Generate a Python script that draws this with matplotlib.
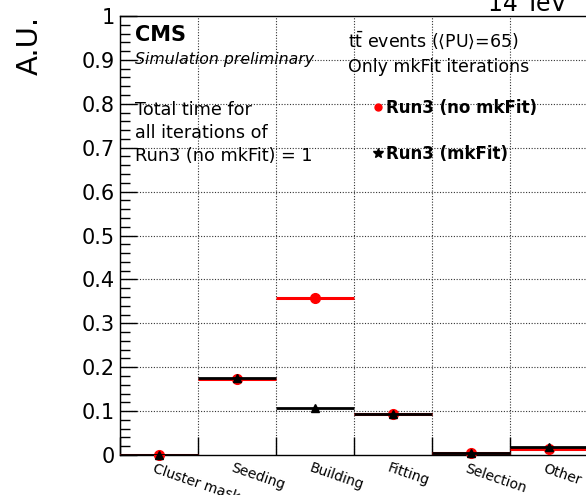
import matplotlib
matplotlib.use("Agg")
import matplotlib.pyplot as plt
import numpy as np
from matplotlib.ticker import MultipleLocator

plt.rcParams['font.family'] = ['DejaVu Sans']
plt.rcParams['mathtext.fontset'] = 'dejavusans'

categories = ["Cluster mask", "Seeding", "Building", "Fitting", "Selection", "Other"]
run3_no_mkfit = [0.001, 0.174, 0.357, 0.093, 0.005, 0.014]
run3_mkfit = [0.001, 0.176, 0.107, 0.094, 0.004, 0.018]
y_ticks = [0, 0.1, 0.2, 0.3, 0.4, 0.5, 0.6, 0.7, 0.8, 0.9, 1]
y_tick_labels = ["0", "0.1", "0.2", "0.3", "0.4", "0.5", "0.6", "0.7", "0.8", "0.9", "1"]

W, H = 586, 495
fig = plt.figure(figsize=(W / 100, H / 100), dpi=100)
ax = fig.add_axes([120 / W, 1 - 455 / H, 468 / W, (455 - 16) / H])

n = len(categories)
edges = np.arange(n + 1)
centers = edges[:-1] + 0.5

ax.set_xlim(0, n)
ax.set_ylim(0, 1)

# grid
for e in edges:
    ax.axvline(e, color="#333333", lw=0.8, ls=(0, (1, 1.5)), zorder=0)
for t in y_ticks[1:-1]:
    ax.axhline(t, color="#333333", lw=0.8, ls=(0, (1, 1.5)), zorder=0)

# per-bin values with horizontal bin-width bars
ax.hlines(run3_no_mkfit, edges[:-1], edges[1:], colors="red", lw=2.2, zorder=3)
ax.plot(centers, run3_no_mkfit, "o", color="red", ms=7, zorder=4, clip_on=False)
ax.hlines(run3_mkfit, edges[:-1], edges[1:], colors="black", lw=2.0, zorder=5)
ax.plot(centers, run3_mkfit, "^", color="black", ms=6, zorder=6, clip_on=False)

# axes styling
ax.set_yticks(y_ticks)
ax.set_yticklabels(y_tick_labels, fontsize=15)
ax.yaxis.set_minor_locator(MultipleLocator(0.02))
ax.tick_params(axis="y", which="major", direction="in", length=12, width=1, pad=4, right=False)
ax.tick_params(axis="y", which="minor", direction="in", length=7, width=1, right=False)
ax.set_xticks(edges)
ax.set_xticklabels([])
ax.tick_params(axis="x", which="major", direction="in", length=13, width=1, top=False)
for c, lab in zip(centers, categories):
    ax.text(c - 0.04, -0.014, lab, rotation=-19, rotation_mode="anchor",
            ha="left", va="top", fontsize=10, transform=ax.transData)
for s in ax.spines.values():
    s.set_linewidth(1.0)

ax.set_ylabel("A.U.", fontsize=21, rotation=90, ha="right", va="bottom")
ax.yaxis.set_label_coords(-0.162, 1.0)

# annotations
ax.text(0.032, 0.957, "CMS", transform=ax.transAxes, fontsize=15, fontweight="bold",
        ha="left", va="center")
ax.text(0.032, 0.9, "Simulation preliminary", transform=ax.transAxes, fontsize=11.3,
        style="italic", ha="left", va="center")
for i, line in enumerate(["Total time for", "all iterations of", "Run3 (no mkFit) = 1"]):
    ax.text(0.032, 0.786 - i * 0.052, line, transform=ax.transAxes, fontsize=12.7,
            ha="left", va="center")
ax.text(0.487, 0.945, r"t$\bar{\mathrm{t}}$ events ($\langle$PU$\rangle$=65)",
        transform=ax.transAxes, fontsize=12.5, ha="left", va="center")
ax.text(0.487, 0.884, "Only mkFit iterations", transform=ax.transAxes, fontsize=12.5,
        ha="left", va="center")

# legend
ax.plot([0.551], [0.793], "o", color="red", ms=5, transform=ax.transAxes, clip_on=False)
ax.text(0.569, 0.79, "Run3 (no mkFit)", transform=ax.transAxes, fontsize=12,
        fontweight="bold", ha="left", va="center")
ax.plot([0.551], [0.688], "*", color="black", ms=7, transform=ax.transAxes, clip_on=False)
ax.text(0.569, 0.685, "Run3 (mkFit)", transform=ax.transAxes, fontsize=12,
        fontweight="bold", ha="left", va="center")

fig.text(488 / W, 1 - 11 / H, "14 TeV", fontsize=17, ha="left", va="baseline")

fig.savefig("out.png", dpi=100)
